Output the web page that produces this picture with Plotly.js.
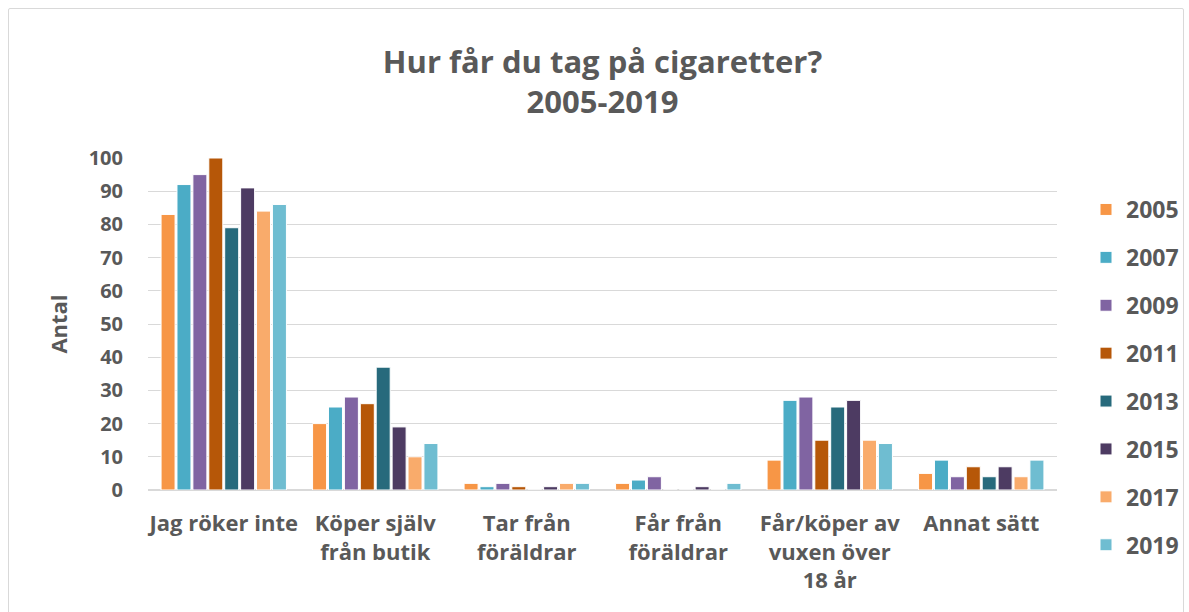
<!DOCTYPE html>
<html><head><meta charset="utf-8">
<script src="https://cdn.plot.ly/plotly-3.0.1.min.js"></script>
<style>
html,body{margin:0;padding:0;background:#fff;}
#frame{position:absolute;left:8px;top:8px;width:1174px;height:620px;border:1px solid #d9d9d9;border-radius:2px;}
#chart{position:absolute;left:0;top:0;width:1189px;height:612px;}
</style></head>
<body>
<div id="frame"></div>
<div id="chart"></div>
<script>
const categories = ["Jag röker inte","Köper själv<br>från butik","Tar från<br>föräldrar","Får från<br>föräldrar","Får/köper av<br>vuxen över<br>18 år","Annat sätt"];
const years = ["2005","2007","2009","2011","2013","2015","2017","2019"];
const v2005 = [83,20,2,2,9,5];
const v2007 = [92,25,1,3,27,9];
const v2009 = [95,28,2,4,28,4];
const v2011 = [100,26,1,0,15,7];
const v2013 = [79,37,0,0,25,4];
const v2015 = [91,19,1,1,27,7];
const v2017 = [84,10,2,0,15,4];
const v2019 = [86,14,2,2,14,9];
const series = [v2005,v2007,v2009,v2011,v2013,v2015,v2017,v2019];
const colors = ["#F79646","#4BACC6","#8064A2","#B65708","#276A7C","#4D3B62","#F9AB6B","#6FBDD1"];

const font = "'Open Sans', sans-serif";
const traces = years.map((y,i)=>({
  type:"bar", name:y, x:categories, y:series[i],
  marker:{color:colors[i], line:{color:"#ffffff", width:1}},
  legendgroup:"g"+i, hoverinfo:"x+y+name"
}));

const layout = {
  width:1189, height:612,
  paper_bgcolor:"rgba(0,0,0,0)", plot_bgcolor:"rgba(0,0,0,0)",
  margin:{l:148, r:132, t:158, b:122, autoexpand:false},
  barmode:"group", bargap:0.16, bargroupgap:0.12,
  title:{text:"<b>Hur får du tag på cigaretter?<br>2005-2019</b>", x:0.5, xref:"paper", yref:"container", y:1-73/612, yanchor:"top",
    font:{family:font, size:31, color:"#595959"}},
  xaxis:{tickfont:{family:font, size:22, color:"#595959", weight:"bold"}, showline:false, ticks:"", zeroline:false, automargin:false, ticklabelstandoff:18},
  yaxis:{range:[0,100], dtick:10, gridcolor:"#d9d9d9", gridwidth:1, zeroline:true, zerolinecolor:"#d9d9d9", zerolinewidth:2,
    tickfont:{family:font, size:20, color:"#595959", weight:"bold"}, ticklabelstandoff:24,
    title:{text:"<b>Antal</b>", font:{family:font, size:22, color:"#595959"}, standoff:14}, automargin:false},
  legend:{xref:"container", x:1086/1189, xanchor:"left", yref:"container", y:1-188/612, yanchor:"top", font:{family:font, size:23, color:"#595959", weight:"bold"},
    tracegroupgap:15, itemwidth:30, traceorder:"grouped", maxheight:600},
  showlegend:true
};
Plotly.newPlot("chart", traces, layout, {displayModeBar:false, staticPlot:true});
</script>
</body></html>
